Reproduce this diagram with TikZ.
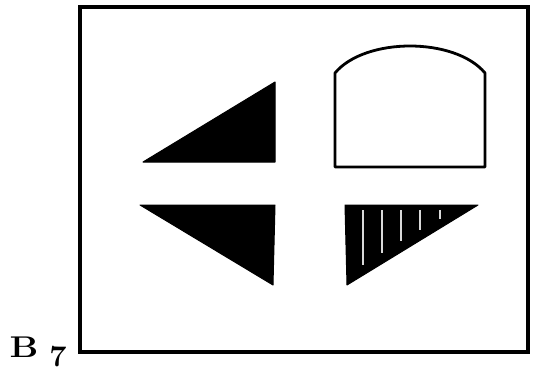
\documentclass[tikz,border=0pt]{standalone}
\usepackage{fontspec}
\begin{document}
\begin{tikzpicture}[x=1pt,y=-1pt,
  frame/.style={line width=3.2pt},
  outline/.style={line width=2.8pt, line join=round},
  solid tri/.style={fill=black, draw=black, line width=1pt, line join=round},
  stripe/.style={white!85!black, line width=2.6pt},
  lab/.style={font=\bfseries\fontsize{30}{32}\selectfont, inner sep=0pt, xscale=1.2}]
\useasboundingbox (0,0) rectangle (535,372);
% frame
\draw[frame] (80,7) rectangle (528,352);
% label
\node[lab] (B) at (24,347) {B};
\node[lab, xscale=0.85] (seven) at (58,357) {7};
% upper-left triangle
\fill[solid tri] (143,162) -- (275,82) -- (275,162) -- cycle;
% lower-left triangle
\fill[solid tri] (140,205) -- (275,205) -- (273,285) -- cycle;
% arch
\draw[outline] (335,167) -- (335,73) .. controls (365,37) and (455,37) .. (485,73) -- (485,167) -- cycle;
% striped triangle
\fill[solid tri] (345,205) -- (478,205) -- (347,285) -- cycle;
\draw[stripe] (363,210) -- (363,265);
\draw[stripe] (382,210) -- (382,253);
\draw[stripe] (401,210) -- (401,241);
\draw[stripe] (420,210) -- (420,230);
\draw[stripe] (440,210) -- (440,219);
\end{tikzpicture}
\end{document}
